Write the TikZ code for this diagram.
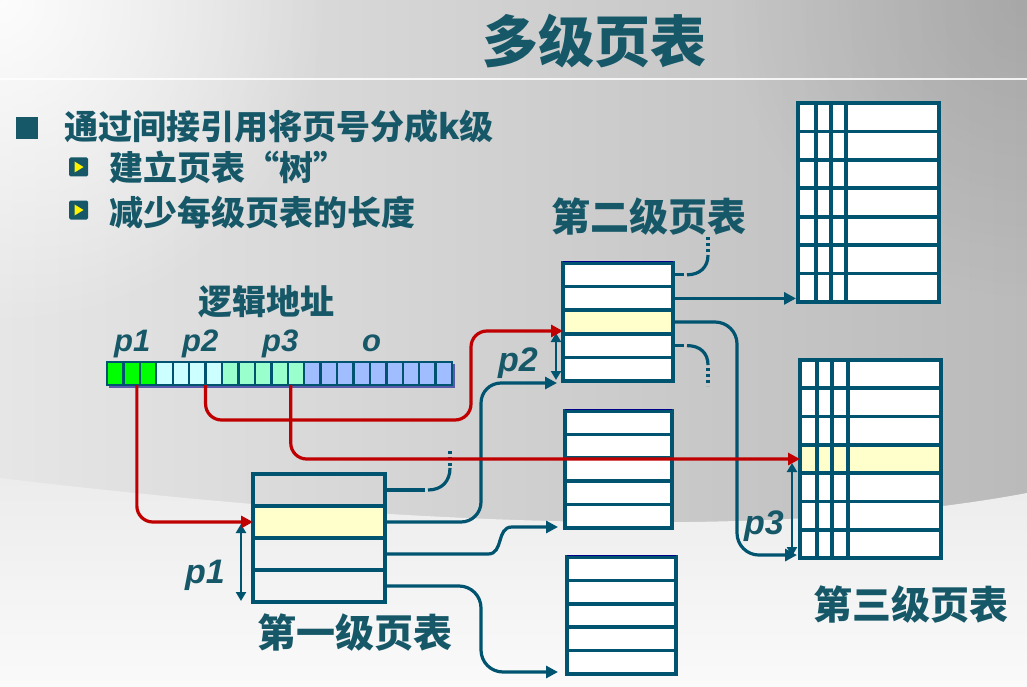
\documentclass[tikz,border=0pt]{standalone}
\usepackage{fontspec}
\newfontfamily\cjk{Noto Sans CJK SC}
\newfontfamily\pfont{Liberation Sans}
\usetikzlibrary{arrows.meta,calc,fadings}
\definecolor{tl}{RGB}{0,84,112}
\definecolor{tx}{RGB}{22,88,104}
\definecolor{rd}{RGB}{192,0,0}
\definecolor{hl}{RGB}{255,255,204}
\definecolor{cg}{RGB}{0,255,0}
\definecolor{cc}{RGB}{204,255,255}
\definecolor{cm}{RGB}{153,255,204}
\definecolor{cb}{RGB}{160,190,255}
\definecolor{nv}{RGB}{0,0,140}
\definecolor{sh}{RGB}{90,90,170}
\definecolor{bgA}{RGB}{230,230,230}
\definecolor{bgB}{RGB}{186,186,186}
\definecolor{bgL1}{RGB}{236,236,236}
\definecolor{bgL2}{RGB}{250,250,250}
\tikzfading[name=glow, inner color=transparent!0, outer color=transparent!100]
\begin{document}
\begin{tikzpicture}[x=1pt,y=-1pt,
  cell/.style={draw=tl, line width=3.6pt, inner sep=0pt, outer sep=0pt},
  acell/.style={draw=tl, line width=2.4pt, minimum width=16.43pt, minimum height=23pt, inner sep=0pt, outer sep=0pt},
  conn/.style={draw=tl, line width=3.2pt},
  rline/.style={draw=rd, line width=3.2pt},
  arr/.style={-{Triangle[length=12pt,width=12pt]}},
  dbl/.style={draw=tl, line width=2.6pt, {Triangle[length=9pt,width=10pt]}-{Triangle[length=9pt,width=10pt]}},
  dotl/.style={draw=tl, line width=3.2pt, dash pattern=on 3pt off 3pt},
  cjkt/.style={text=tx, inner sep=0pt, anchor=west, font=\cjk\bfseries\fontsize{#1}{#1}\selectfont},
  plab/.style={text=tx, inner sep=0pt, anchor=base west, font=\pfont\bfseries\itshape\fontsize{#1}{#1}\selectfont},
]
\useasboundingbox (0,0) rectangle (1027,687);
% background
\shade[left color=bgA, right color=bgB] (0,0) rectangle (1027,687);
\fill[white, path fading=glow, opacity=0.9] (0,0) circle (330);
\fill[black, path fading=glow, opacity=0.10] (1027,0) circle (300);
\shade[top color=bgL1, bottom color=bgL2] (0,478) .. controls (350,520) and (750,545) .. (1027,493) -- (1027,687) -- (0,687) -- cycle;
\draw[white, line width=2.5pt, opacity=0.85] (0,79) -- (1027,79);

% address bar
\fill[sh] (109,364) rectangle (455,388);
\foreach \i in {1,2,3} \node[acell, fill=cg] (a\i) at ({107+16.43*(\i-0.5)},373.5) {};
\foreach \i in {4,...,7} \node[acell, fill=cc] (a\i) at ({107+16.43*(\i-0.5)},373.5) {};
\foreach \i in {8,...,12} \node[acell, fill=cm] (a\i) at ({107+16.43*(\i-0.5)},373.5) {};
\foreach \i in {13,...,21} \node[acell, fill=cb] (a\i) at ({107+16.43*(\i-0.5)},373.5) {};
\draw[tl, line width=2.6pt] (a1.north west) rectangle (a21.south east);

% first-level table
\foreach \i/\f in {1/none,2/hl,3/none,4/none}
  \node[cell, fill=\f, minimum width=132pt, minimum height=32pt] (A\i) at (319,{458+32*\i}) {};
% second-level table
\foreach \i/\f in {1/white,2/white,3/hl,4/white,5/white}
  \node[cell, fill=\f, minimum width=110pt, minimum height=23.6pt] (B\i) at (618,{263+23.6*(\i-0.5)}) {};
\draw[nv, line width=1pt] ($(B1.north west)+(0,-1.8)$) -- ($(B1.north east)+(0,-1.8)$);
% middle table
\foreach \i in {1,...,5}
  \node[cell, fill=white, minimum width=107pt, minimum height=23.4pt] (C\i) at (618.5,{411+23.4*(\i-0.5)}) {};
\draw[nv, line width=1pt] ($(C1.north west)+(0,-1.8)$) -- ($(C1.north east)+(0,-1.8)$);
% bottom table
\foreach \i in {1,...,5}
  \node[cell, fill=white, minimum width=109pt, minimum height=23.4pt] (D\i) at (621.5,{557+23.4*(\i-0.5)}) {};
\draw[nv, line width=1pt] ($(D1.north west)+(0,-1.8)$) -- ($(D1.north east)+(0,-1.8)$);
% third-level tables
\foreach \i in {1,...,7}
  \node[cell, fill=white, minimum width=141pt, minimum height=28.43pt] (E\i) at (868.5,{103+28.43*(\i-0.5)}) {};
\foreach \d in {18,33,48} \draw[tl, line width=3.4pt] ($(E1.north west)+(\d,0)$) -- ($(E7.south west)+(\d,0)$);
\foreach \i/\f in {1/white,2/white,3/white,4/hl,5/white,6/white,7/white}
  \node[cell, fill=\f, minimum width=141pt, minimum height=28.29pt] (F\i) at (870.5,{360+28.29*(\i-0.5)}) {};
\foreach \d in {17,32,48} \draw[tl, line width=3.4pt] ($(F1.north west)+(\d,0)$) -- ($(F7.south west)+(\d,0)$);

% teal connectors
\coordinate (inB) at ($(B5.south west)+(-6,2)$);
\coordinate (inC) at ($(C5.south west)+(-7,-1)$);
\coordinate (inD) at ($(D5.south west)+(-9,-2)$);
\coordinate (inF) at ($(F7.south west)+(-3,-3)$);
\draw[conn] (A1.east) -- ++(40,0);
\draw[conn] (428,490) .. controls (442,490) and (450,481) .. (450,468);
\draw[dotl] (450,466) -- (450,448);
\draw[conn, rounded corners=20, arr] (A2.east) -| ($(inB)+(-76,0)$) -- (inB);
\draw[conn, arr] (A3.east) -- (488,554) .. controls (504,554) and (496,527) .. (512,527) -- (inC);
\draw[conn, rounded corners=22, arr] (A4.east) -| ($(inD)+(-77,0)$) -- (inD);
\draw[conn] (B1.east) -- ++(11,0);
\draw[conn] (687,274.8) .. controls (700,274.8) and (708,267) .. (708,255);
\draw[dotl] (708,252) -- (708,236);
\draw[conn, arr, shorten >=2pt] (B2.east) -- (B2.east -| E7.west);
\draw[conn, rounded corners=22, arr] (B3.east) -| ($(inF)+(-60,0)$) -- (inF);
\draw[conn] (B4.east) -- ++(11,0);
\draw[conn] (687,345.6) .. controls (700,345.6) and (708,353) .. (708,365);
\draw[dotl] (708,368) -- (708,386);

% index arrows
\draw[dbl] ($(A2.west)+(-12,2)$) -- ($(A4.south west)+(-12,-1)$);
\draw[dbl] ($(B3.west)+(-7,11)$) -- ($(B5.south west)+(-7,-1)$);
\draw[dbl] ($(F4.west)+(-8,4)$) -- ($(F7.south west)+(-8,-2)$);

% red connectors
\coordinate (inB3) at ($(B3.west)+(0,9)$);
\draw[rline, rounded corners=16, arr] ($(a2.south east)+(-3,0)$) |- (A2.west);
\draw[rline, rounded corners=16, arr] (a6.south east) |- (471,420) |- (inB3);
\draw[rline, rounded corners=16, arr] ($(a12.south west)+(3,0)$) |- (F4.west);

% texts
\node[cjkt=56, anchor=center] (title) at (594,41) {多级页表};
\node[fill=tx, minimum size=22pt, inner sep=0pt] (b0) at (26.5,128.5) {};
\node[cjkt=34] (t0) at (64,127) {通过间接引用将页号分成k级};
\node[fill=tx, rounded corners=1.5pt, minimum size=19pt, inner sep=0pt] (b1) at (78.5,167) {};
\fill[yellow] ($(b1.center)+(-4,-5.5)$) -- ($(b1.center)+(5,0)$) -- ($(b1.center)+(-4,5.5)$) -- cycle;
\node[cjkt=34] (t1) at (109,167) {建立页表“树”};
\node[fill=tx, rounded corners=1.5pt, minimum size=19pt, inner sep=0pt] (b2) at (78.5,210) {};
\fill[yellow] ($(b2.center)+(-4,-5.5)$) -- ($(b2.center)+(5,0)$) -- ($(b2.center)+(-4,5.5)$) -- cycle;
\node[cjkt=34] (t2) at (109,212) {减少每级页表的长度};
\node[cjkt=34] (lg) at (198,302) {逻辑地址};
\node[plab=31] (q1) at (114,351) {p1};
\node[plab=31] (q2) at (182,351) {p2};
\node[plab=31] (q3) at (262,351) {p3};
\node[plab=31] (qo) at (362,351) {o};
\node[cjkt=39] (n1) at (257,633) {第一级页表};
\node[cjkt=39] (n2) at (551,217) {第二级页表};
\node[cjkt=39] (n3) at (813,605) {第三级页表};
\node[plab=34] (r1) at (185,583) {p1};
\node[plab=34] (r2) at (498,371) {p2};
\node[plab=34] (r3) at (744,534) {p3};
\end{tikzpicture}
\end{document}
